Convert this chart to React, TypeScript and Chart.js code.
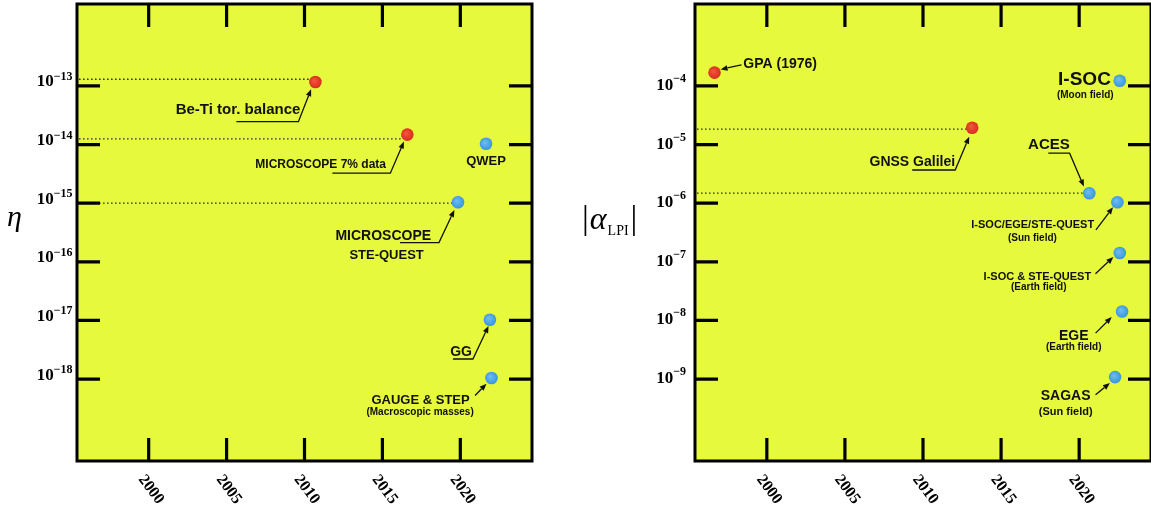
import React, { useEffect, useRef } from 'react';
import { Chart, registerables } from 'chart.js';

Chart.register(...registerables);

// ---------- shared axis ----------
const yearTicks = [2000, 2005, 2010, 2015, 2020];
const yearMin = 1995.4;
const yearMax = 2024.6;

// ---------- left panel: eta ----------
const etaNames = ['Be-Ti tor. balance', 'MICROSCOPE 7% data', 'QWEP', 'MICROSCOPE / STE-QUEST', 'GG', 'GAUGE & STEP'];
const etaYears = [2010.7, 2016.6, 2021.65, 2019.85, 2021.9, 2022.0];
const etaValues = [1.17e-13, 1.48e-14, 1.03e-14, 1.04e-15, 1.03e-17, 1.04e-18];
const etaMeasured = [true, true, false, false, false, false];
const etaDottedIdx = [0, 1, 3];
const etaDottedLevels = [1.3e-13, 1.25e-14, 1.0e-15];
const etaTicks = [1e-13, 1e-14, 1e-15, 1e-16, 1e-17, 1e-18];
const etaTickExps = ['\u221213', '\u221214', '\u221215', '\u221216', '\u221217', '\u221218'];
const etaMin = 4.0e-20;
const etaMax = 2.5e-12;

// ---------- right panel: alpha_LPI ----------
const lpiNames = ['GPA (1976)', 'GNSS Galilei', 'I-SOC (Moon field)', 'ACES', 'I-SOC/EGE/STE-QUEST (Sun field)', 'I-SOC & STE-QUEST (Earth field)', 'EGE (Earth field)', 'SAGAS (Sun field)'];
const lpiYears = [1996.65, 2013.15, 2022.6, 2020.65, 2022.45, 2022.6, 2022.75, 2022.3];
const lpiValues = [1.69e-4, 1.94e-5, 1.23e-4, 1.48e-6, 1.04e-6, 1.41e-7, 1.42e-8, 1.08e-9];
const lpiMeasured = [true, true, false, false, false, false, false, false];
const lpiDottedIdx = [1, 3];
const lpiDottedLevels = [1.83e-5, 1.48e-6];
const lpiTicks = [1e-4, 1e-5, 1e-6, 1e-7, 1e-8, 1e-9];
const lpiTickExps = ['\u22124', '\u22125', '\u22126', '\u22127', '\u22128', '\u22129'];
const lpiMin = 4.0e-11;
const lpiMax = 2.5e-3;

// ---------- annotation layout (pixel offsets from their point) ----------
type Txt = { t: string; dx: number; dy: number; size: number; align: CanvasTextAlign };
type Ann = { i: number; texts: Txt[]; path?: number[][] };

const etaAnns: Ann[] = [
  { i: 0, texts: [{ t: 'Be-Ti tor. balance', dx: -15, dy: 28, size: 15, align: 'right' }], path: [[-79, 39.7], [-17, 39.7], [-4.3, 7.3]] },
  { i: 1, texts: [{ t: 'MICROSCOPE 7% data', dx: -21.3, dy: 29.6, size: 12, align: 'right' }], path: [[-75, 38.6], [-17, 38.6], [-3.4, 7]] },
  { i: 2, texts: [{ t: 'QWEP', dx: 0, dy: 17.7, size: 13, align: 'center' }] },
  { i: 3, texts: [{ t: 'MICROSCOPE', dx: -26.9, dy: 34.4, size: 14, align: 'right' }, { t: 'STE-QUEST', dx: -71.4, dy: 53.7, size: 13, align: 'center' }], path: [[-58, 40.4], [-19, 40.4], [-3.6, 7.7]] },
  { i: 4, texts: [{ t: 'GG', dx: -18, dy: 32.7, size: 14, align: 'right' }], path: [[-37, 39.3], [-17, 39.3], [-1.4, 6.2]] },
  { i: 5, texts: [{ t: 'GAUGE & STEP', dx: -70.9, dy: 22.7, size: 13, align: 'center' }, { t: '(Macroscopic masses)', dx: -71.4, dy: 34, size: 10, align: 'center' }], path: [[-16.4, 17.4], [-5, 5.7]] },
];

const lpiAnns: Ann[] = [
  { i: 0, texts: [{ t: 'GPA (1976)', dx: 28.8, dy: -8.7, size: 14, align: 'left' }], path: [[27, -7.7], [6, -3.2]] },
  { i: 1, texts: [{ t: 'GNSS Galilei', dx: -17.1, dy: 34.6, size: 14, align: 'right' }], path: [[-60, 42.3], [-17, 42.3], [-3, 9]] },
  { i: 2, texts: [{ t: 'I-SOC', dx: -8.9, dy: -0.7, size: 19, align: 'right' }, { t: '(Moon field)', dx: -34.5, dy: 14.3, size: 10, align: 'center' }] },
  { i: 3, texts: [{ t: 'ACES', dx: -40.4, dy: -48.3, size: 15, align: 'center' }], path: [[-41, -40], [-19.7, -40], [-5.4, -6.6]] },
  { i: 4, texts: [{ t: 'I-SOC/EGE/STE-QUEST', dx: -23.3, dy: 22.7, size: 11, align: 'right' }, { t: '(Sun field)', dx: -85, dy: 36, size: 10, align: 'center' }], path: [[-21.5, 27.7], [-4.4, 5]] },
  { i: 5, texts: [{ t: 'I-SOC & STE-QUEST', dx: -28.6, dy: 24, size: 11, align: 'right' }, { t: '(Earth field)', dx: -81, dy: 34.4, size: 10, align: 'center' }], path: [[-24.3, 20.7], [-6.4, 4]] },
  { i: 6, texts: [{ t: 'EGE', dx: -48.4, dy: 24.3, size: 14, align: 'center' }, { t: '(Earth field)', dx: -48.4, dy: 36, size: 10, align: 'center' }], path: [[-26.5, 21.6], [-10.4, 5.6]] },
  { i: 7, texts: [{ t: 'SAGAS', dx: -49.5, dy: 19.4, size: 14, align: 'center' }, { t: '(Sun field)', dx: -49.4, dy: 34.4, size: 11, align: 'center' }], path: [[-19.5, 17.7], [-5.2, 6]] },
];

const YELLOW = '#e6f93c';
const SANS = '"Liberation Sans", Arial, Helvetica, sans-serif';
const SERIF = '"Liberation Serif", "Times New Roman", serif';

type PanelCfg = {
  years: number[];
  values: number[];
  measured: boolean[];
  dottedIdx: number[];
  dottedLevels: number[];
  yTicks: number[];
  yExps: string[];
  yMin: number;
  yMax: number;
  anns: Ann[];
  padding: { left: number; right: number; top: number; bottom: number };
  labelGap: number;
  labelBase: number;
  supRaise: number;
  drawTitle: (ctx: CanvasRenderingContext2D) => void;
};

function drawArrowPath(ctx: CanvasRenderingContext2D, pts: number[][]) {
  const n = pts.length;
  const [tx, ty] = pts[n - 1];
  const [sx, sy] = pts[n - 2];
  const ang = Math.atan2(ty - sy, tx - sx);
  const L = 7, W = 2.8;
  const bx = tx - L * Math.cos(ang);
  const by = ty - L * Math.sin(ang);
  ctx.beginPath();
  ctx.moveTo(pts[0][0], pts[0][1]);
  for (let k = 1; k < n - 1; k++) ctx.lineTo(pts[k][0], pts[k][1]);
  ctx.lineTo(bx, by);
  ctx.stroke();
  ctx.beginPath();
  ctx.moveTo(tx, ty);
  ctx.lineTo(bx - W * Math.sin(ang), by + W * Math.cos(ang));
  ctx.lineTo(bx + W * Math.sin(ang), by - W * Math.cos(ang));
  ctx.closePath();
  ctx.fill();
}

function makePlugin(p: PanelCfg) {
  return {
    id: 'panelDecor',
    beforeDatasetsDraw(chart: any) {
      const { ctx, chartArea: a, scales } = chart;
      const xs = scales.x, ys = scales.y;
      ctx.save();
      ctx.fillStyle = YELLOW;
      ctx.fillRect(a.left, a.top, a.right - a.left, a.bottom - a.top);

      // dotted reference lines
      ctx.strokeStyle = '#333';
      ctx.lineWidth = 1.3;
      ctx.setLineDash([1.6, 2.4]);
      p.dottedIdx.forEach((idx, k) => {
        const y = ys.getPixelForValue(p.dottedLevels[k]);
        const x = xs.getPixelForValue(p.years[idx]) - 6;
        ctx.beginPath();
        ctx.moveTo(a.left + 2, y);
        ctx.lineTo(x, y);
        ctx.stroke();
      });
      ctx.setLineDash([]);

      // inner tick marks
      ctx.strokeStyle = '#000';
      ctx.lineWidth = 3.2;
      const TL = 23;
      yearTicks.forEach((yr) => {
        const x = xs.getPixelForValue(yr);
        ctx.beginPath();
        ctx.moveTo(x, a.top); ctx.lineTo(x, a.top + TL);
        ctx.moveTo(x, a.bottom); ctx.lineTo(x, a.bottom - TL);
        ctx.stroke();
      });
      p.yTicks.forEach((v) => {
        const y = ys.getPixelForValue(v);
        ctx.beginPath();
        ctx.moveTo(a.left, y); ctx.lineTo(a.left + TL, y);
        ctx.moveTo(a.right, y); ctx.lineTo(a.right - TL, y);
        ctx.stroke();
      });

      // frame
      ctx.lineWidth = 3;
      ctx.strokeRect(a.left, a.top, a.right - a.left, a.bottom - a.top);

      // x tick labels (rotated clockwise)
      ctx.fillStyle = '#000';
      ctx.font = `bold 16px ${SERIF}`;
      ctx.textAlign = 'left';
      ctx.textBaseline = 'top';
      yearTicks.forEach((yr) => {
        const x = xs.getPixelForValue(yr);
        ctx.save();
        ctx.translate(x - 1, a.bottom + 11);
        ctx.rotate((53 * Math.PI) / 180);
        ctx.fillText(String(yr), 0, 0);
        ctx.restore();
      });

      // y tick labels 10^exp
      ctx.textBaseline = 'alphabetic';
      p.yTicks.forEach((v, k) => {
        const y = ys.getPixelForValue(v);
        ctx.font = `bold 12px ${SERIF}`;
        const ew = ctx.measureText(p.yExps[k]).width;
        const ex = a.left - p.labelGap - ew;
        ctx.textAlign = 'left';
        ctx.fillText(p.yExps[k], ex, y + p.labelBase - p.supRaise);
        ctx.font = `bold 17px ${SERIF}`;
        ctx.textAlign = 'right';
        ctx.fillText('10', ex, y + p.labelBase);
      });

      p.drawTitle(ctx);
      ctx.restore();
    },
    afterDatasetsDraw(chart: any) {
      const { ctx, scales } = chart;
      const xs = scales.x, ys = scales.y;
      ctx.save();
      ctx.fillStyle = '#111';
      ctx.strokeStyle = '#111';
      ctx.lineWidth = 1.3;
      ctx.textBaseline = 'middle';
      p.anns.forEach((ann) => {
        const px = xs.getPixelForValue(p.years[ann.i]);
        const py = ys.getPixelForValue(p.values[ann.i]);
        ann.texts.forEach((t) => {
          ctx.font = `bold ${t.size}px ${SANS}`;
          ctx.textAlign = t.align;
          ctx.fillText(t.t, px + t.dx, py + t.dy);
        });
        if (ann.path) {
          drawArrowPath(ctx, ann.path.map(([dx, dy]) => [px + dx, py + dy]));
        }
      });
      ctx.restore();
    },
  };
}

function makeChart(canvas: HTMLCanvasElement, p: PanelCfg) {
  const pts = p.years.map((x, i) => ({ x, y: p.values[i] }));
  const colorFor = (ctx: any) => {
    const i = ctx.dataIndex;
    const red = p.measured[i];
    const chart = ctx.chart;
    const raw = ctx.raw;
    if (!raw || !chart.chartArea) return red ? '#e23a28' : '#48a3e3';
    const x = chart.scales.x.getPixelForValue(raw.x);
    const y = chart.scales.y.getPixelForValue(raw.y);
    const g = chart.ctx.createRadialGradient(x - 1.5, y - 1.5, 0.5, x, y, 7);
    if (red) {
      g.addColorStop(0, '#f2563d');
      g.addColorStop(0.6, '#e43a27');
      g.addColorStop(1, '#cf2e1d');
    } else {
      g.addColorStop(0, '#6cbcf0');
      g.addColorStop(0.6, '#4aa4e4');
      g.addColorStop(1, '#3592d6');
    }
    return g;
  };
  return new Chart(canvas, {
    type: 'scatter',
    data: {
      datasets: [
        {
          data: pts,
          pointRadius: 6.3,
          pointBorderWidth: 0,
          pointBackgroundColor: colorFor as any,
          showLine: false,
        },
      ],
    },
    options: {
      animation: false,
      responsive: false,
      events: [],
      layout: { padding: p.padding, autoPadding: false } as any,
      plugins: { legend: { display: false }, tooltip: { enabled: false } },
      scales: {
        x: { type: 'linear', min: yearMin, max: yearMax, display: false },
        y: { type: 'logarithmic', min: p.yMin, max: p.yMax, display: false },
      },
    },
    plugins: [makePlugin(p) as any],
  });
}

const leftCfg: PanelCfg = {
  years: etaYears,
  values: etaValues,
  measured: etaMeasured,
  dottedIdx: etaDottedIdx,
  dottedLevels: etaDottedLevels,
  yTicks: etaTicks,
  yExps: etaTickExps,
  yMin: etaMin,
  yMax: etaMax,
  anns: etaAnns,
  padding: { left: 77, right: 43, top: 4, bottom: 49 },
  labelGap: 4.5,
  labelBase: 0.5,
  supRaise: 6.5,
  drawTitle: (ctx) => {
    ctx.font = `italic 30px ${SERIF}`;
    ctx.textAlign = 'center';
    ctx.textBaseline = 'alphabetic';
    ctx.fillText('\u03b7', 14.5, 226);
  },
};

const rightCfg: PanelCfg = {
  years: lpiYears,
  values: lpiValues,
  measured: lpiMeasured,
  dottedIdx: lpiDottedIdx,
  dottedLevels: lpiDottedLevels,
  yTicks: lpiTicks,
  yExps: lpiTickExps,
  yMin: lpiMin,
  yMax: lpiMax,
  anns: lpiAnns,
  padding: { left: 120, right: 0, top: 4, bottom: 49 },
  labelGap: 9,
  labelBase: 4,
  supRaise: 8,
  drawTitle: (ctx) => {
    ctx.textAlign = 'left';
    ctx.textBaseline = 'alphabetic';
    let x = 7;
    ctx.font = `34px ${SERIF}`;
    ctx.fillText('|', x, 229);
    x += ctx.measureText('|').width + 1;
    ctx.font = `italic 32px ${SERIF}`;
    ctx.fillText('\u03b1', x, 229);
    x += ctx.measureText('\u03b1').width + 1;
    ctx.font = `14px ${SERIF}`;
    ctx.fillText('LPI', x, 235);
    x += ctx.measureText('LPI').width + 2;
    ctx.font = `34px ${SERIF}`;
    ctx.fillText('|', x, 229);
  },
};

export default function App() {
  const leftRef = useRef<HTMLCanvasElement>(null);
  const rightRef = useRef<HTMLCanvasElement>(null);

  useEffect(() => {
    const c1 = makeChart(leftRef.current!, leftCfg);
    const c2 = makeChart(rightRef.current!, rightCfg);
    return () => {
      c1.destroy();
      c2.destroy();
    };
  }, []);

  return (
    <div style={{ position: 'fixed', left: 0, top: 0, width: 1151, height: 510, background: '#fff', overflow: 'hidden' }}>
      <canvas ref={leftRef} width={575} height={510} style={{ position: 'absolute', left: 0, top: 0, width: 575, height: 510 }} />
      <canvas ref={rightRef} width={576} height={510} style={{ position: 'absolute', left: 575, top: 0, width: 576, height: 510 }} />
    </div>
  );
}
